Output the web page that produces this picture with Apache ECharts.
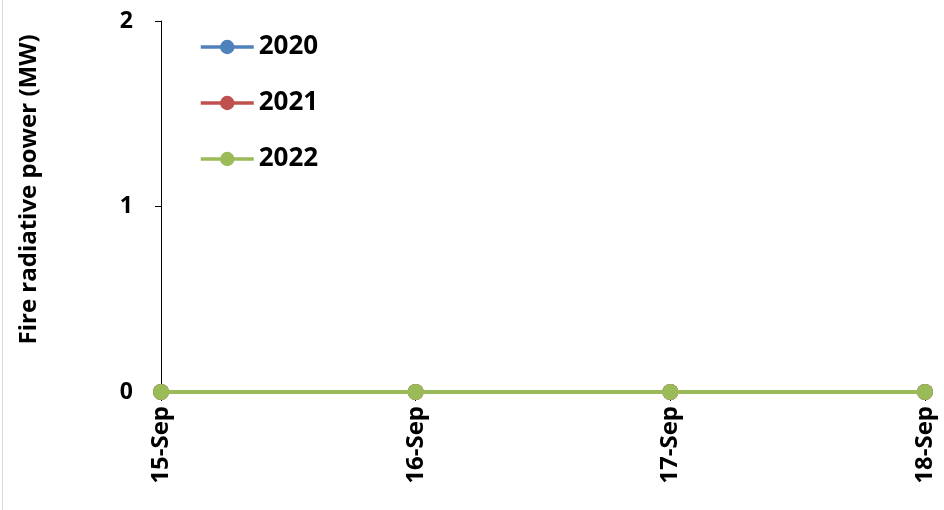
<!DOCTYPE html>
<html>
<head>
<meta charset="utf-8">
<script src="https://cdn.jsdelivr.net/npm/echarts@6/dist/echarts.min.js"></script>
<style>
html,body{margin:0;padding:0;background:#fff;}
#wrap{position:absolute;left:0;top:0;width:944px;height:510px;}
#edge{position:absolute;left:2px;top:0;width:1px;height:510px;background:#d9d9d9;}
#chart{position:absolute;left:0;top:0;width:944px;height:510px;}
</style>
</head>
<body>
<div id="wrap"><div id="edge"></div><div id="chart"></div></div>
<script>
const categories = ['15-Sep', '16-Sep', '17-Sep', '18-Sep'];
const seriesNames = ['2020', '2021', '2022'];
const values2020 = [0, 0, 0, 0];
const values2021 = [0, 0, 0, 0];
const values2022 = [0, 0, 0, 0];
const yTicks = [0, 1, 2];
const colors = ['#4f81bd', '#c0504d', '#9bbb59'];

const FONT = '"Open Sans", "Noto Sans", sans-serif';
const chart = echarts.init(document.getElementById('chart'), null, {renderer: 'canvas'});
const allValues = [values2020, values2021, values2022];
chart.setOption({
  animation: false,
  backgroundColor: 'transparent',
  grid: {left: 161, right: 19, top: 21, bottom: 118, containLabel: false},
  legend: {
    orient: 'vertical',
    left: 199,
    top: 34,
    padding: 0,
    itemWidth: 53,
    itemHeight: 18,
    itemGap: 30,
    data: seriesNames,
    lineStyle: {width: 3.5},
    textStyle: {fontFamily: FONT, fontWeight: 'bold', fontSize: 26, lineHeight: 26, color: '#000'}
  },
  xAxis: {
    type: 'category',
    data: categories,
    boundaryGap: false,
    axisLine: {lineStyle: {color: '#000', width: 1}},
    axisTick: {show: true, length: 9, lineStyle: {color: '#000'}},
    axisLabel: {rotate: 90, margin: 14, fontFamily: FONT, fontWeight: 'bold', fontSize: 24, color: '#000'},
    splitLine: {show: false}
  },
  yAxis: {
    type: 'value',
    min: yTicks[0],
    max: yTicks[yTicks.length - 1],
    interval: 1,
    name: 'Fire radiative power (MW)',
    nameLocation: 'middle',
    nameGap: 120,
    nameTextStyle: {fontFamily: FONT, fontWeight: 'bold', fontSize: 24, color: '#000', padding: [0, 0, 0, 34]},
    axisLine: {show: true, lineStyle: {color: '#000', width: 1}},
    axisTick: {show: true, length: 6, lineStyle: {color: '#000'}},
    axisLabel: {margin: 28, fontFamily: FONT, fontWeight: 'bold', fontSize: 23, color: '#000'},
    splitLine: {show: false}
  },
  series: seriesNames.map((n, i) => ({
    name: n,
    type: 'line',
    data: allValues[i],
    symbol: 'circle',
    symbolSize: 16,
    itemStyle: {color: colors[i]},
    lineStyle: {color: colors[i], width: 4},
    z: 2 + i
  }))
});
</script>
</body>
</html>
